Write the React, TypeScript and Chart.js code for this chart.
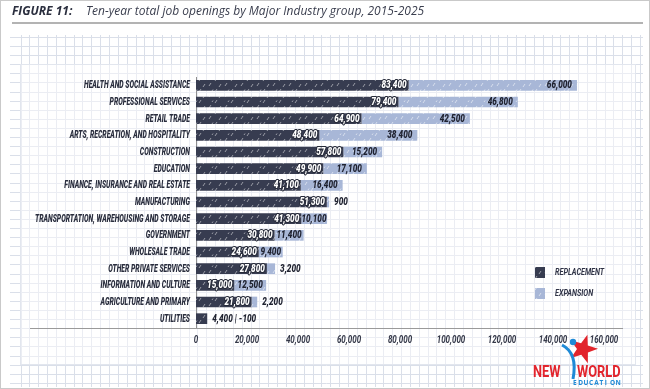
import React, { useEffect, useRef } from 'react';
import { Chart, registerables } from 'chart.js';
Chart.register(...registerables);

const categories = [
  'HEALTH AND SOCIAL ASSISTANCE',
  'PROFESSIONAL SERVICES',
  'RETAIL TRADE',
  'ARTS, RECREATION, AND HOSPITALITY',
  'CONSTRUCTION',
  'EDUCATION',
  'FINANCE, INSURANCE AND REAL ESTATE',
  'MANUFACTURING',
  'TRANSPORTATION, WAREHOUSING AND STORAGE',
  'GOVERNMENT',
  'WHOLESALE TRADE',
  'OTHER PRIVATE SERVICES',
  'INFORMATION AND CULTURE',
  'AGRICULTURE AND PRIMARY',
  'UTILITIES',
];
const replacement = [83400, 79400, 64900, 48400, 57800, 49900, 41100, 51300, 41300, 30800, 24600, 27800, 15000, 21800, 4400];
const expansion = [66000, 46800, 42500, 38400, 15200, 17100, 16400, 900, 10100, 11400, 9400, 3200, 12500, 2200, -100];
const seriesNames = ['REPLACEMENT', 'EXPANSION'];
const xTickValues = [0, 20000, 40000, 60000, 80000, 100000, 120000, 140000, 160000];
const titleBold = 'FIGURE 11:';
const titleText = 'Ten-year total job openings by Major Industry group, 2015-2025';
const logoWords = ['NEW', 'WORLD', 'EDUCATION'];

const COND = "Roboto, 'Noto Sans', sans-serif";
const SANS = "'Open Sans', 'Noto Sans', sans-serif";
const DARK = '#373c50';
const LIGHT = '#a8b7d7';
const TEXT = '#2a2e3e';

const fmt = (v: number) => v.toLocaleString('en-US');

function makePattern(base: string, alpha: number): CanvasPattern | string {
  const c = document.createElement('canvas');
  c.width = 16;
  c.height = 11;
  const g = c.getContext('2d');
  if (!g) return base;
  g.fillStyle = base;
  g.fillRect(0, 0, 16, 11);
  g.strokeStyle = `rgba(255,255,255,${alpha})`;
  g.lineWidth = 0.9;
  const segs = [
    [1, 9, 3, 6],
    [7, 4, 9, 1],
    [11, 10, 13, 7],
    [4, 3, 5, 1.5],
  ];
  segs.forEach(([a, b, c2, d]) => {
    g.beginPath();
    g.moveTo(a, b);
    g.lineTo(c2, d);
    g.stroke();
  });
  return g.createPattern(c, 'repeat') || base;
}

function condText(
  ctx: CanvasRenderingContext2D,
  txt: string,
  x: number,
  y: number,
  align: CanvasTextAlign,
  sx: number,
  fill: string,
  stroke?: string
) {
  ctx.save();
  ctx.translate(x, y);
  ctx.scale(sx, 1);
  ctx.textAlign = align;
  if (stroke) {
    ctx.lineWidth = 2.2;
    ctx.lineJoin = 'round';
    ctx.strokeStyle = stroke;
    ctx.strokeText(txt, 0, 0);
  }
  ctx.fillStyle = fill;
  ctx.fillText(txt, 0, 0);
  ctx.restore();
}

const backgroundPlugin = {
  id: 'paperBackground',
  beforeDraw(chart: any) {
    const ctx = chart.ctx as CanvasRenderingContext2D;
    const W = chart.width;
    const H = chart.height;
    ctx.save();
    ctx.fillStyle = '#ffffff';
    ctx.fillRect(0, 0, W, H);
    ctx.strokeStyle = '#dadfe9';
    ctx.lineWidth = 1;
    for (let x = 20.5; x <= 643; x += 8.85) {
      ctx.beginPath();
      ctx.moveTo(Math.round(x) + 0.5, 35);
      ctx.lineTo(Math.round(x) + 0.5, 387);
      ctx.stroke();
    }
    for (let y = 37; y <= 387; y += 9.1) {
      ctx.beginPath();
      ctx.moveTo(10, Math.round(y) + 0.5);
      ctx.lineTo(643, Math.round(y) + 0.5);
      ctx.stroke();
    }
    ctx.fillStyle = 'rgba(255,255,255,0.45)';
    ctx.fillRect(20, 64, 615, 300);
    ctx.strokeStyle = '#e2e6ee';
    ctx.strokeRect(20.5, 64.5, 615, 300);
    ctx.textBaseline = 'alphabetic';
    ctx.fillStyle = TEXT;
    ctx.font = `italic bold 12px ${SANS}`;
    ctx.fillText(titleBold, 12, 15);
    ctx.fillStyle = '#3a3e4e';
    ctx.font = `italic 12px ${SANS}`;
    ctx.fillText(titleText, 86, 15);
    ctx.strokeStyle = '#9a9a9a';
    ctx.lineWidth = 1.5;
    ctx.beginPath();
    ctx.moveTo(12, 23);
    ctx.lineTo(643, 23);
    ctx.stroke();
    ctx.strokeStyle = '#c9c9c9';
    ctx.lineWidth = 1;
    ctx.strokeRect(0.5, 0.5, W - 1, H - 1);
    ctx.restore();
  },
};

const overlayPlugin = {
  id: 'overlay',
  afterDatasetsDraw(chart: any) {
    const ctx = chart.ctx as CanvasRenderingContext2D;
    const m0 = chart.getDatasetMeta(0);
    const m1 = chart.getDatasetMeta(1);
    const SX = 0.78;
    ctx.save();
    ctx.font = `italic 900 10.5px ${COND}`;
    ctx.textBaseline = 'middle';
    m0.data.forEach((bar: any, i: number) => {
      const p = bar.getProps(['x', 'y', 'base'], true);
      const rv = replacement[i];
      const ev = expansion[i];
      const txt = fmt(rv);
      const tw = ctx.measureText(txt).width * SX;
      const width = p.x - p.base;
      if (width >= tw + 4) {
        condText(ctx, txt, p.x - 2, p.y + 0.5, 'right', SX, '#ffffff', '#262a38');
      } else {
        const combined = ev < 0 ? `${txt} | ${fmt(ev)}` : txt;
        condText(ctx, combined, p.x + 5, p.y + 0.5, 'left', SX, '#1f2230');
      }
    });
    m1.data.forEach((bar: any, i: number) => {
      const ev = expansion[i];
      if (ev < 0) return;
      const p = bar.getProps(['x', 'y', 'base'], true);
      const txt = fmt(ev);
      const tw = ctx.measureText(txt).width * SX;
      const width = p.x - p.base;
      const spare = width - tw;
      if (spare >= -3) {
        const pad = Math.max(0.5, Math.min(5, spare / 2));
        condText(ctx, txt, p.x - pad, p.y + 0.5, 'right', SX, '#1f2230');
      } else {
        condText(ctx, txt, p.x + 5, p.y + 0.5, 'left', SX, '#1f2230');
      }
    });
    ctx.restore();
  },
  afterDraw(chart: any) {
    const ctx = chart.ctx as CanvasRenderingContext2D;
    const area = chart.chartArea;
    const ys = chart.scales.y;
    const xs = chart.scales.x;
    ctx.save();
    // category labels from the y scale
    ctx.font = `italic 900 10.5px ${COND}`;
    ctx.textBaseline = 'middle';
    const ref = ctx.measureText(chart.data.labels[0]).width;
    const SY = 106 / ref;
    chart.data.labels.forEach((lab: string, i: number) => {
      condText(ctx, lab, area.left - 6, ys.getPixelForTick(i) + 0.5, 'right', SY, TEXT);
    });
    // x tick labels from the x scale
    ctx.font = `italic bold 10px ${COND}`;
    xTickValues.forEach((v) => {
      condText(ctx, fmt(v), xs.getPixelForValue(v), area.bottom + 13, 'center', 0.8, '#343848');
    });
    // extended x axis line
    ctx.strokeStyle = '#9a9a9a';
    ctx.lineWidth = 1.2;
    ctx.beginPath();
    ctx.moveTo(30, area.bottom + 1.5);
    ctx.lineTo(623, area.bottom + 1.5);
    ctx.stroke();
    // legend
    const ds = chart.data.datasets;
    const items = [
      { y: 272, ds: ds[0] },
      { y: 293, ds: ds[1] },
    ];
    ctx.font = `italic bold 9.5px ${COND}`;
    items.forEach((it) => {
      ctx.fillStyle = it.ds.backgroundColor;
      ctx.fillRect(535, it.y - 5, 10, 11);
      condText(ctx, it.ds.label, 555, it.y + 0.5, 'left', 0.76, '#2f3346');
    });
    // logo
    const cx = 583;
    const cy = 349;
    ctx.fillStyle = '#e2242c';
    ctx.beginPath();
    for (let k = 0; k < 10; k++) {
      const r = k % 2 === 0 ? 15 : 6;
      const a = -Math.PI / 2 + 0.3 + (k * Math.PI) / 5;
      const px = cx + r * Math.cos(a);
      const py = cy + r * Math.sin(a);
      if (k === 0) ctx.moveTo(px, py);
      else ctx.lineTo(px, py);
    }
    ctx.closePath();
    ctx.fill();
    ctx.strokeStyle = '#1f8ad6';
    ctx.lineWidth = 3;
    ctx.beginPath();
    ctx.moveTo(562, 345);
    ctx.quadraticCurveTo(578, 353, 573, 379);
    ctx.stroke();
    ctx.fillStyle = '#1f8ad6';
    ctx.beginPath();
    ctx.arc(573, 342, 3.2, 0, Math.PI * 2);
    ctx.fill();
    ctx.font = `bold 16px ${COND}`;
    ctx.textBaseline = 'alphabetic';
    condText(ctx, logoWords[0], 533, 377, 'left', 0.8, '#e2242c');
    condText(ctx, logoWords[1], 577, 377, 'left', 0.8, '#e2242c');
    ctx.font = `bold 6.5px ${SANS}`;
    ctx.fillStyle = '#1f8ad6';
    logoWords[2].split('').forEach((ch, k) => {
      ctx.textAlign = 'left';
      ctx.fillText(ch, 573 + k * 5.3, 385);
    });
    ctx.restore();
  },
};

export default function App() {
  const ref = useRef<HTMLCanvasElement | null>(null);
  useEffect(() => {
    document.body.style.margin = '0';
    const canvas = ref.current;
    if (!canvas) return;
    const chart = new Chart(canvas, {
      type: 'bar',
      data: {
        labels: categories,
        datasets: [
          {
            label: seriesNames[0],
            data: replacement,
            backgroundColor: makePattern(DARK, 0.55) as any,
            borderWidth: 0,
            barPercentage: 0.64,
            categoryPercentage: 1,
          },
          {
            label: seriesNames[1],
            data: expansion,
            backgroundColor: makePattern(LIGHT, 0.6) as any,
            borderWidth: 0,
            barPercentage: 0.64,
            categoryPercentage: 1,
          },
        ],
      },
      options: {
        indexAxis: 'y',
        responsive: false,
        animation: false,
        devicePixelRatio: 1,
        layout: { padding: { left: 20, right: 46, top: 77, bottom: 32 } },
        plugins: {
          legend: { display: false },
          title: { display: false },
          tooltip: { enabled: false },
        },
        scales: {
          x: {
            stacked: true,
            min: 0,
            max: 160000,
            afterFit: (s: any) => {
              s.height = 30;
            },
            afterBuildTicks: (s: any) => {
              s.ticks = xTickValues.map((v) => ({ value: v }));
            },
            grid: { display: false, drawTicks: false },
            border: { display: false },
            ticks: { display: false },
          },
          y: {
            stacked: true,
            afterFit: (s: any) => {
              s.width = 176;
            },
            grid: { display: false, drawTicks: false },
            border: { display: true, color: '#8f8f8f', width: 1 },
            ticks: { display: false, autoSkip: false },
          },
        },
      },
      plugins: [backgroundPlugin, overlayPlugin],
    } as any);
    return () => chart.destroy();
  }, []);
  return (
    <div style={{ width: 650, height: 389 }}>
      <canvas ref={ref} width={650} height={389} style={{ display: 'block' }} />
    </div>
  );
}
